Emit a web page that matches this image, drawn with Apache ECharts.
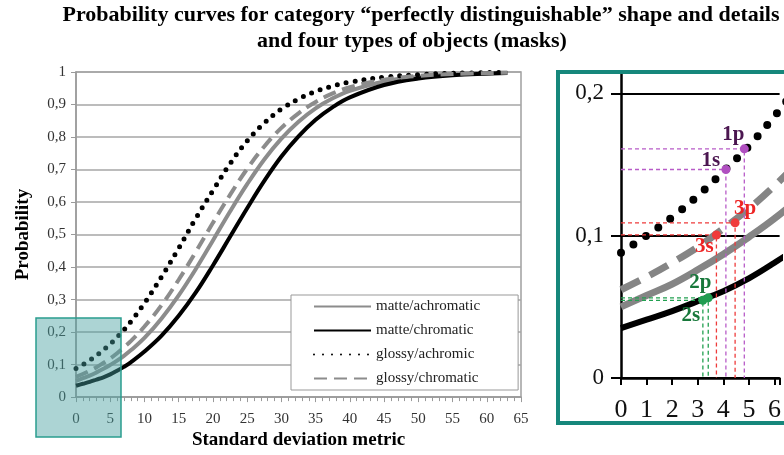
<!DOCTYPE html>
<html>
<head>
<meta charset="utf-8">
<script src="https://cdn.jsdelivr.net/npm/echarts@6/dist/echarts.min.js"></script>
<style>
html,body{margin:0;padding:0;background:#fff}
#chart{width:784px;height:455px}
</style>
</head>
<body>
<div id="chart"></div>
<script>
// standard deviation metric (x) and probability
const xs = [0, 1, 2, 3, 4, 5, 6, 7, 8, 10, 12.5, 15, 17.5, 20, 22.5, 25, 27.5, 30, 32.5, 35, 37.5, 40, 45, 50, 55, 63];
const matteAchromatic = [0.050, 0.058, 0.066, 0.076, 0.087, 0.099, 0.112, 0.127, 0.144, 0.182, 0.242, 0.313, 0.394, 0.482, 0.571, 0.655, 0.731, 0.795, 0.847, 0.888, 0.919, 0.942, 0.971, 0.985, 0.993, 0.998];
const matteChromatic = [0.035, 0.041, 0.047, 0.054, 0.061, 0.070, 0.081, 0.093, 0.107, 0.140, 0.189, 0.250, 0.322, 0.405, 0.493, 0.581, 0.665, 0.740, 0.802, 0.853, 0.892, 0.922, 0.960, 0.980, 0.990, 0.997];
const glossyAchromic = [0.088, 0.100, 0.113, 0.128, 0.145, 0.163, 0.184, 0.207, 0.232, 0.289, 0.370, 0.458, 0.550, 0.635, 0.718, 0.788, 0.843, 0.886, 0.917, 0.940, 0.957, 0.969, 0.984, 0.992, 0.996, 0.999];
const glossyChromatic = [0.062, 0.071, 0.081, 0.092, 0.105, 0.119, 0.135, 0.153, 0.172, 0.217, 0.283, 0.361, 0.447, 0.536, 0.622, 0.702, 0.771, 0.828, 0.873, 0.908, 0.934, 0.953, 0.976, 0.988, 0.994, 0.998];
const seriesNames = ['matte/achromatic', 'matte/chromatic', 'glossy/achromic', 'glossy/chromatic'];
const seriesValues = [matteAchromatic, matteChromatic, glossyAchromic, glossyChromatic];

// marked points in the zoomed inset
const markNames = ['1p', '1s', '3p', '3s', '2p', '2s'];
const markX = [4.82, 4.10, 4.46, 3.73, 3.41, 3.20];
const markY = [0.161, 0.1465, 0.109, 0.1005, 0.0563, 0.0546];

const serif = 'Liberation Serif';
const commaFmt = v => String(+v.toFixed(2)).replace('.', ',');

const mainStyles = [
  { color: '#8c8c8c', width: 4, type: 'solid' },
  { color: '#000000', width: 4, type: 'solid' },
  { color: '#000000', width: 5, type: [0, 9], cap: 'round' },
  { color: '#8c8c8c', width: 4, type: [13, 7] }
];
const insetStyles = [
  { color: '#858585', width: 7, type: 'solid' },
  { color: '#000000', width: 6, type: 'solid' },
  { color: '#000000', width: 8, type: [0, 15], cap: 'round' },
  { color: '#858585', width: 7, type: [21, 11] }
];
const groupColors = {
  '1': { point: '#b04fc0', text: '#4b1650', line: '#b85cc8' },
  '2': { point: '#1f9d50', text: '#17783a', line: '#22a050' },
  '3': { point: '#f03a3a', text: '#ee2424', line: '#ee3b3b' }
};
const labelOffsets = { '1p': [-11, -14], '1s': [-15, -9], '3p': [10, -14], '3s': [-12, 12], '2p': [-8, -15], '2s': [-12, 15] };
const pointSize = 9;

const chart = echarts.init(document.getElementById('chart'));

const series = [];
seriesNames.forEach((name, k) => {
  const data = xs.map((x, i) => [x, seriesValues[k][i]]);
  series.push({
    name: name, type: 'line', xAxisIndex: 0, yAxisIndex: 0,
    data: data, smooth: 0.4, symbol: 'none', z: 3,
    lineStyle: mainStyles[k], itemStyle: { color: mainStyles[k].color }
  });
  series.push({
    name: name, type: 'line', xAxisIndex: 1, yAxisIndex: 1,
    data: data, smooth: 0.4, symbol: 'none', z: 3,
    lineStyle: insetStyles[k], itemStyle: { color: insetStyles[k].color }
  });
});

markNames.forEach((n, i) => {
  series.push({
    type: 'line', xAxisIndex: 1, yAxisIndex: 1, symbol: 'none', silent: true, z: 4,
    data: [[0, markY[i]], [markX[i], markY[i]], [markX[i], 0]],
    lineStyle: { color: groupColors[n[0]].line, width: 1.3, type: [4, 3] }
  });
});

series.push({
  type: 'scatter', xAxisIndex: 1, yAxisIndex: 1, symbolSize: pointSize, z: 5,
  itemStyle: { opacity: 1 },
  data: markNames.map((n, i) => ({
    name: n, value: [markX[i], markY[i]],
    itemStyle: { color: groupColors[n[0]].point, opacity: 1 },
    label: {
      show: true, formatter: '{b}',
      position: [pointSize / 2 + labelOffsets[n][0], pointSize / 2 + labelOffsets[n][1]],
      align: 'center', verticalAlign: 'middle', opacity: 1,
      color: groupColors[n[0]].text, fontFamily: serif, fontSize: 21, fontWeight: 'bold'
    }
  }))
});

const titleStyle = { fontFamily: serif, fontSize: 22, fontWeight: 'bold', color: '#000' };

const option = {
  animation: false,
  backgroundColor: '#ffffff',
  title: [
    {
      text: 'Probability curves for category \u201cperfectly distinguishable\u201d shape and details',
      left: 421, top: 4, textAlign: 'center', padding: 0, textStyle: titleStyle
    },
    {
      text: 'and four types of objects (masks)',
      left: 412, top: 30, textAlign: 'center', padding: 0, textStyle: titleStyle
    }
  ],
  legend: {
    data: seriesNames, orient: 'vertical', left: 291, top: 295,
    itemWidth: 57, itemHeight: 14, itemGap: 9,
    padding: [4, 38, 4, 22],
    backgroundColor: '#ffffff', borderColor: '#999999', borderWidth: 1,
    itemStyle: { opacity: 0 },
    textStyle: { fontFamily: serif, fontSize: 15, color: '#222' }
  },
  grid: [
    { left: 76, right: 263, top: 72, bottom: 54, containLabel: false, show: true, borderColor: '#a0a0a0', borderWidth: 1.5 },
    { left: 621, right: 0, top: 72, bottom: 77, containLabel: false }
  ],
  xAxis: [
    {
      gridIndex: 0, type: 'value', min: 0, max: 65, interval: 5,
      axisLine: { lineStyle: { color: '#9a9a9a', width: 1.5 } },
      axisTick: { show: true, length: 5, lineStyle: { color: '#9a9a9a' } },
      minorTick: { show: true, splitNumber: 5, length: 4, lineStyle: { color: '#9a9a9a' } },
      splitLine: { show: false },
      axisLabel: { fontFamily: serif, fontSize: 15, color: '#333', margin: 14 },
      name: 'Standard deviation metric', nameLocation: 'middle', nameGap: 33,
      nameTextStyle: { fontFamily: serif, fontSize: 19, fontWeight: 'bold', color: '#000' }
    },
    {
      gridIndex: 1, type: 'value', min: 0, max: 6.2, interval: 1,
      axisLine: { lineStyle: { color: '#000', width: 2.5 } },
      axisTick: { show: true, length: 7, lineStyle: { color: '#000', width: 2 } },
      splitLine: { show: false },
      axisLabel: {
        fontFamily: serif, fontSize: 26, color: '#111', margin: 19,
        formatter: v => (Math.abs(v - Math.round(v)) < 1e-6 ? String(Math.round(v)) : '')
      }
    }
  ],
  yAxis: [
    {
      gridIndex: 0, type: 'value', min: 0, max: 1, interval: 0.1,
      axisLine: { show: true, lineStyle: { color: '#9a9a9a', width: 1.5 } },
      axisTick: { show: true, length: 5, lineStyle: { color: '#9a9a9a' } },
      splitLine: { lineStyle: { color: '#a6a6a6', width: 1.5 } },
      axisLabel: { fontFamily: serif, fontSize: 15, color: '#333', margin: 10, formatter: commaFmt },
      name: 'Probability', nameLocation: 'middle', nameGap: 43, nameRotate: 90,
      nameTextStyle: { fontFamily: serif, fontSize: 19, fontWeight: 'bold', color: '#000' }
    },
    {
      gridIndex: 1, type: 'value', min: 0, max: 0.215, interval: 0.1,
      axisLine: { show: true, lineStyle: { color: '#000', width: 2.5 } },
      axisTick: { show: true, length: 10, lineStyle: { color: '#000', width: 2 } },
      splitLine: { lineStyle: { color: '#000', width: 2 } },
      axisLabel: {
        fontFamily: serif, fontSize: 23, color: '#111', margin: 17,
        formatter: v => (Math.abs(v * 10 - Math.round(v * 10)) < 1e-6 ? commaFmt(v) : '')
      }
    }
  ],
  graphic: [
    {
      type: 'rect', z: 100, silent: true,
      shape: { x: 36, y: 318, width: 85, height: 119 },
      style: { fill: 'rgba(70,160,160,0.45)', stroke: '#2a9d8f', lineWidth: 1.5 }
    },
    {
      type: 'rect', z: 100, silent: true,
      shape: { x: 558, y: 72, width: 240, height: 351 },
      style: { fill: 'none', stroke: '#16877b', lineWidth: 4 }
    }
  ],
  series: series
};

chart.setOption(option);
</script>
</body>
</html>
